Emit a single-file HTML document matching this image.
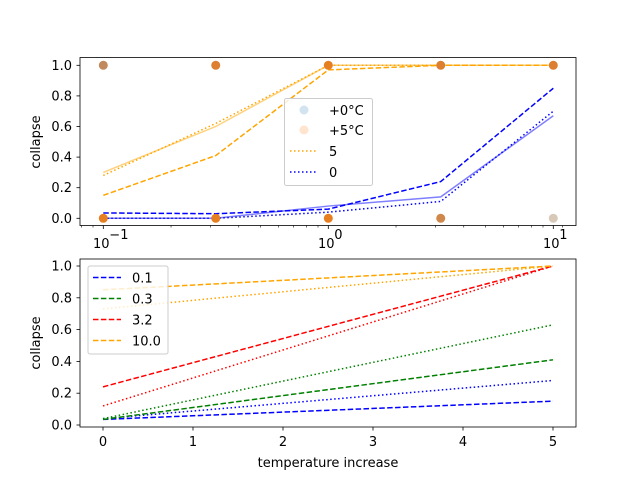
<!DOCTYPE html>
<html><head><meta charset="utf-8"><style>
body{margin:0;background:#fff;font-family:"Liberation Sans","DejaVu Sans",sans-serif}
svg text{font-family:"DejaVu Sans","Liberation Sans",sans-serif;font-size:13px;fill:#000}
</style></head><body>
<svg id="c" width="640" height="480" xmlns="http://www.w3.org/2000/svg"></svg>
<script>
const topX=[0.1,0.316,1,3.16,10];
const orangeSolid=[0.30,0.60,1.0,1.0,1.0];
const orangeDotted=[0.28,0.62,1.0,1.0,1.0];
const orangeDashed=[0.15,0.41,0.97,1.0,1.0];
const blueSolid=[0.0,0.0,0.08,0.14,0.67];
const blueDashed=[0.035,0.03,0.06,0.24,0.85];
const blueDotted=[0.0,0.0,0.04,0.11,0.70];
const scatterHigh=[1,1,1,1,1];
const scatterLow=[0,0,0,0,0];
const scatterHighColor=['#c08a5e','#dc7f30','#e67e22','#dc7f30','#dc7f30'];
const scatterLowColor=['#e67e22','#e67e22','#e67e22','#d0884a','#d8c8b8'];
const botX=[0,5];
const b01Dash=[0.035,0.15], b01Dot=[0.04,0.28];
const g03Dash=[0.035,0.41], g03Dot=[0.04,0.63];
const r32Dash=[0.24,1.0], r32Dot=[0.12,1.0];
const o10Dash=[0.85,1.0], o10Dot=[0.73,1.0];
const yTicks=[0,0.2,0.4,0.6,0.8,1.0];
const yTickLabels=['0.0','0.2','0.4','0.6','0.8','1.0'];
const xTicksBot=[0,1,2,3,4,5];

const svg=document.getElementById('c');
const NS='http://www.w3.org/2000/svg';
function mk(t,a,name,parent){const e=document.createElementNS(NS,t);for(const k in a)e.setAttribute(k,a[k]);


(parent||svg).appendChild(e);return e;}
const tx=v=>103.3+225*Math.log10(v/0.1);
const ty=v=>218.3-153*v;
const bx=v=>103+90*v;
const by=v=>425-159*v;

mk('rect',{x:80,y:57.5,width:496,height:168,fill:'none',stroke:'#000','stroke-width':0.8},'top-axes-frame');
mk('rect',{x:80,y:259,width:496,height:168,fill:'none',stroke:'#000','stroke-width':0.8},'bottom-axes-frame');

yTicks.forEach((v,i)=>{const y=ty(v);
mk('line',{x1:76.5,x2:80,y1:y,y2:y,stroke:'#000','stroke-width':0.8},'top-y-tick');
const t=mk('text',{x:72,y:y+4.5,'text-anchor':'end'},'top-y-tick-label');t.textContent=yTickLabels[i];
const y2=by(v);
mk('line',{x1:76.5,x2:80,y1:y2,y2:y2,stroke:'#000','stroke-width':0.8},'bottom-y-tick');
const t2=mk('text',{x:72,y:y2+4.5,'text-anchor':'end'},'bottom-y-tick-label');t2.textContent=yTickLabels[i];});
[0.1,1,10].forEach((v,i)=>{const x=tx(v);
mk('line',{x1:x,x2:x,y1:225.5,y2:229,stroke:'#000','stroke-width':0.8},'top-x-tick');
const t=mk('text',{x:x-2,y:248,'text-anchor':'middle'},'top-x-tick-label');t.textContent='10';
const s=mk('text',{x:x+6,y:239,'font-size':'9px','text-anchor':'start'},'top-x-tick-exponent');s.textContent=['−1','0','1'][i];});
[0.08,0.09,0.2,0.3,0.4,0.5,0.6,0.7,0.8,0.9,2,3,4,5,6,7,8,9,11].forEach(v=>{const x=tx(v);if(x<80||x>576)return;
mk('line',{x1:x,x2:x,y1:225.5,y2:227.5,stroke:'#000','stroke-width':0.6},'top-x-minor-tick');});
xTicksBot.forEach(v=>{const x=bx(v);
mk('line',{x1:x,x2:x,y1:427,y2:430.5,stroke:'#000','stroke-width':0.8},'bottom-x-tick');
const t=mk('text',{x:x,y:446,'text-anchor':'middle'},'bottom-x-tick-label');t.textContent=v;});
let t=mk('text',{x:328,y:467,'text-anchor':'middle'},'x-axis-title');t.textContent='temperature increase';
t=mk('text',{x:40,y:142,'text-anchor':'middle',transform:'rotate(-90 40 142)'},'top-y-axis-title');t.textContent='collapse';
t=mk('text',{x:40,y:343,'text-anchor':'middle',transform:'rotate(-90 40 343)'},'bottom-y-axis-title');t.textContent='collapse';

function line(xs,ys,fx,fy,color,dash,op,w,name){
const pts=xs.map((x,i)=>fx(x)+','+fy(ys[i])).join(' ');
mk('polyline',{points:pts,fill:'none',stroke:color,'stroke-width':w||1.5,'stroke-dasharray':dash||'none',opacity:op||1},name);}
const DASH='5.5,2.4',DOT='1.5,2.5';
line(topX,orangeSolid,tx,ty,'orange','',0.5,1.5,'orange-solid-line');
line(topX,blueSolid,tx,ty,'blue','',0.5,1.5,'blue-solid-line');
line(topX,orangeDotted,tx,ty,'orange',DOT,1,1.5,'orange-dotted-line');
line(topX,orangeDashed,tx,ty,'orange',DASH,1,1.5,'orange-dashed-line');
line(topX,blueDashed,tx,ty,'blue',DASH,1,1.5,'blue-dashed-line');
line(topX,blueDotted,tx,ty,'blue',DOT,1,1.5,'blue-dotted-line');
topX.forEach((x,i)=>{
mk('circle',{cx:tx(x),cy:ty(scatterHigh[i]),r:4.5,fill:scatterHighColor[i]},'scatter-point-high');
mk('circle',{cx:tx(x),cy:ty(scatterLow[i]),r:4.5,fill:scatterLowColor[i]},'scatter-point-low');});
mk('rect',{x:284.5,y:98.5,width:88,height:87,rx:2,fill:'#fff','fill-opacity':0.8,stroke:'#ccc'},'top-legend');
mk('circle',{cx:304,cy:110,r:4.5,fill:'#1f77b4',opacity:0.2},'legend-marker-0c');
t=mk('text',{x:329,y:115},'legend-label-0c');t.textContent='+0°C';
mk('circle',{cx:304,cy:130,r:4.5,fill:'#ff7f0e',opacity:0.2},'legend-marker-5c');
t=mk('text',{x:329,y:135},'legend-label-5c');t.textContent='+5°C';
mk('line',{x1:290,x2:318,y1:151,y2:151,stroke:'orange','stroke-width':1.5,'stroke-dasharray':DOT},'legend-line-5');
t=mk('text',{x:329,y:156},'legend-label-5');t.textContent='5';
mk('line',{x1:290,x2:318,y1:172,y2:172,stroke:'blue','stroke-width':1.5,'stroke-dasharray':DOT},'legend-line-0');
t=mk('text',{x:329,y:177},'legend-label-0');t.textContent='0';
line(botX,b01Dash,bx,by,'blue',DASH,1,1.5,'line-0.1-dashed');
line(botX,b01Dot,bx,by,'blue',DOT,1,1.5,'line-0.1-dotted');
line(botX,g03Dash,bx,by,'green',DASH,1,1.5,'line-0.3-dashed');
line(botX,g03Dot,bx,by,'green',DOT,1,1.5,'line-0.3-dotted');
line(botX,r32Dash,bx,by,'red',DASH,1,1.5,'line-3.2-dashed');
line(botX,r32Dot,bx,by,'red',DOT,1,1.5,'line-3.2-dotted');
line(botX,o10Dash,bx,by,'orange',DASH,1,1.5,'line-10.0-dashed');
line(botX,o10Dot,bx,by,'orange',DOT,1,1.5,'line-10.0-dotted');
mk('rect',{x:88,y:266,width:80,height:88,rx:2,fill:'#fff','fill-opacity':0.8,stroke:'#ccc'},'bottom-legend');
[['0.1','blue'],['0.3','green'],['3.2','red'],['10.0','orange']].forEach((d,i)=>{const y=277.5+21*i;
mk('line',{x1:93,x2:121,y1:y,y2:y,stroke:d[1],'stroke-width':1.5,'stroke-dasharray':DASH},'legend-line-'+d[0]);
const tt=mk('text',{x:132,y:y+5},'legend-label-'+d[0]);tt.textContent=d[0];});
</script>
</body></html>
